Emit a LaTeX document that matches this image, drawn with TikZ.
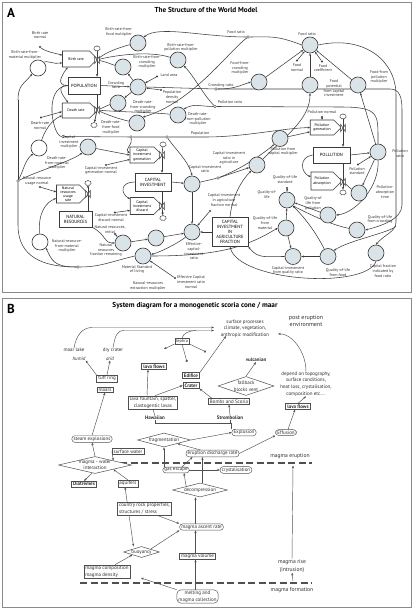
\documentclass[tikz,border=0pt]{standalone}
\usepackage{fontspec}
\setmainfont{PT Sans}
\usetikzlibrary{shapes.geometric,shapes.symbols,arrows.meta}
\pgfdeclarelayer{bg}
\pgfsetlayers{bg,main}
\definecolor{auxfill}{HTML}{D9E3E8}
\definecolor{lnA}{HTML}{3C3C3C}
\definecolor{lnB}{HTML}{505050}
\definecolor{txB}{HTML}{2E2E2E}
\definecolor{frm}{HTML}{8A8A8A}
\newcommand{\fsA}{\fontsize{4}{4.7}\selectfont}
\newcommand{\fsB}{\fontsize{5}{6.6}\selectfont}
\tikzset{
 frame/.style={draw=frm,line width=0.9pt},
 lettr/.style={font=\bfseries\fontsize{13}{13}\selectfont,inner sep=0},
 ttl/.style={font=\bfseries\fontsize{7.2}{8}\selectfont,inner sep=0},
 aux/.style={circle,draw=lnA,line width=0.65pt,fill=auxfill,minimum size=16pt,inner sep=0},
 wcirc/.style={aux,fill=white},
 la/.style={font=\fsA,align=center,text=black!80,inner sep=0},
 lvl/.style={draw=lnA,line width=0.85pt,fill=white,font=\fontsize{4.5}{5}\selectfont,align=center,inner sep=0},
 rate/.style={signal,signal to=east,draw=lnA,line width=0.6pt,fill=white,font=\fontsize{3.8}{4.2}\selectfont,align=center,inner sep=0},
 cst/.style={circle,fill=lnA,inner sep=0,minimum size=2.3pt},
 jn/.style={circle,draw=lnA,line width=0.4pt,fill=white,inner sep=0,minimum size=2.6pt},
 ea/.style={draw=lnA,line width=0.55pt,-{Stealth[length=2.4pt,width=2pt]}},
 el/.style={draw=lnA,line width=0.55pt},
 flw/.style={draw=lnA,line width=0.75pt,-{Stealth[length=2.6pt,width=2.4pt]}},
 cloudy/.style={cloud,cloud puffs=7,draw=lnA,line width=0.45pt,fill=white,minimum width=6.5pt,minimum height=5.5pt,inner sep=0},
 bt/.style={font=\fsB,text=txB,align=center,inner sep=0},
 bb/.style={draw=lnB,line width=0.45pt,fill=white,font=\fsB,text=txB,align=center,inner xsep=1.6pt,inner ysep=1pt},
 bbold/.style={bb,font=\fsB\bfseries,line width=0.6pt},
 bround/.style={bb,rounded corners=2.8pt},
 dia/.style={diamond,draw=lnB,line width=0.5pt,fill=white,inner sep=0},
 eb/.style={draw=lnB,line width=0.45pt,-{Stealth[length=2.8pt,width=2.2pt]}},
 ebb/.style={draw=lnB,line width=0.45pt,{Stealth[length=2.8pt,width=2.2pt]}-{Stealth[length=2.8pt,width=2.2pt]}},
 ec/.style={draw=lnB,line width=0.45pt,-{Circle[length=2.2pt]}},
 lb/.style={draw=lnB,line width=0.45pt},
 dsh/.style={draw=lnB,line width=1.3pt,dash pattern=on 7pt off 3.5pt},
 valve/.pic={\draw[lnA,line width=0.55pt,fill=white] (-2.4,-3.6) -- (2.4,3.6) -- (2.4,-3.6) -- (-2.4,3.6) -- cycle;}
}
\begin{document}
\begin{tikzpicture}[x=1pt,y=-1pt]
\useasboundingbox (0,0) rectangle (414,610);
\begin{pgfonlayer}{bg}
\fill[white] (0,0) rectangle (414,610);
\end{pgfonlayer}
% ================= PANEL A =================
\draw[frame] (2,2) rectangle (411,292);
\node[lettr] (labA) at (11,13) {A};
\node[ttl] (ttlA) at (206,10) {The Structure of the World Model};
% levels
\node[lvl,minimum width=32pt,minimum height=17pt] (pop) at (84,85.5) {POPULATION};
\node[lvl,minimum width=36pt,minimum height=18pt] (capinv) at (153,182) {CAPITAL\\INVESTMENT};
\node[lvl,minimum width=33pt,minimum height=16pt] (natres) at (75.5,219) {NATURAL\\RESOURCES};
\node[lvl,minimum width=37pt,minimum height=16pt] (poll) at (331.5,155) {POLLUTION};
\node[lvl,minimum width=36pt,minimum height=29pt] (ciaf) at (230,232) {CAPITAL\\INVESTMENT\\IN\\AGRICULTURE\\FRACTION};
% rates
\node[rate,minimum width=35pt,minimum height=16pt] (br) at (76,59) {Birth rate};
\node[rate,minimum width=35pt,minimum height=15pt] (dr) at (76,110.5) {Death rate};
\node[rate,minimum width=32pt,minimum height=16pt] (cig) at (142,155) {Capital\\investment\\generation};
\node[rate,minimum width=32pt,minimum height=17pt] (cid) at (142,206) {Capital\\investment\\discard};
\node[rate,minimum width=32pt,minimum height=18pt] (nru) at (68,194) {Natural\\resources\\usage\\rate};
\node[rate,minimum width=31pt,minimum height=15pt] (pg) at (322,127.5) {Pollution\\generation};
\node[rate,minimum width=31pt,minimum height=18pt] (pa) at (322,181) {Pollution\\absorption};
% valves and clouds
\coordinate (vbr) at (97,60); \pic at (vbr) {valve};
\coordinate (vdr) at (97,110); \pic at (vdr) {valve};
\coordinate (vcig) at (162,155); \pic at (vcig) {valve};
\coordinate (vcid) at (162,206); \pic at (vcid) {valve};
\coordinate (vnru) at (88,194); \pic at (vnru) {valve};
\coordinate (vpg) at (343,128); \pic at (vpg) {valve};
\coordinate (vpa) at (343,182); \pic at (vpa) {valve};
\node[cloudy] (brcl) at (97,48.5) {};
\node[cloudy] (drcl) at (94,125) {};
\node[cloudy] (cigcl) at (163,144.5) {};
\node[cloudy] (cidcl) at (163,218) {};
\node[cloudy] (nrucl) at (88,183) {};
\node[cloudy] (pgcl) at (343,116.5) {};
\node[cloudy] (pacl) at (343,192.5) {};
% auxiliaries
\node[aux] (brf) at (138,43) {};
\node[aux] (brp) at (178,60) {};
\node[aux] (brc) at (123,67) {};
\node[aux] (cr) at (138,87) {};
\node[aux] (drc) at (118,103) {};
\node[aux] (drf) at (137,123) {};
\node[aux] (drp) at (178,115) {};
\node[aux] (cim) at (88,147) {};
\node[aux] (nrf) at (123,243) {};
\node[aux] (nrx) at (156,238) {};
\node[aux] (msl) at (143,256) {};
\node[aux] (ecir) at (192,232) {};
\node[aux] (cir) at (192,184) {};
\node[aux] (cira) at (257,165) {};
\node[aux] (pcm) at (280,138.5) {};
\node[aux] (pr) at (378,152) {};
\node[aux] (pat) at (359,193) {};
\node[aux] (ql) at (287,200) {};
\node[aux] (qlp) at (328,215) {};
\node[aux] (qlm) at (286,228) {};
\node[aux] (qlc) at (357,230) {};
\node[aux] (ciq) at (293,256.5) {};
\node[aux] (qlf) at (328,256.5) {};
\node[aux] (cfr) at (376,253) {};
\node[aux] (fr) at (310,45) {};
\node[aux] (ffc) at (259,82) {};
\node[aux] (fpc) at (310,85) {};
\node[aux] (ffp) at (358,85) {};
\node[wcirc] (brm) at (38,68) {};
\node[wcirc] (drm) at (39,148) {};
\node[wcirc] (nrm) at (40,242) {};
% constants
\node[cst] (brnd) at (40,47) {};
\node[cst] (drnd) at (41,117.5) {};
\node[cst] (landd) at (157,76.5) {};
\node[cst] (densd) at (161,90) {};
\node[cst] (fnd) at (297,60.5) {};
\node[cst] (fcd) at (322,61.5) {};
\node[cst] (pnd) at (322,117) {};
\node[cst] (psd) at (358,164.5) {};
\node[cst] (cignd) at (106,165) {};
\node[cst] (cidnd) at (115,212.5) {};
\node[cst] (nrund) at (40,187) {};
\node[cst] (nrind) at (115,234) {};
\node[cst] (ciafnd) at (210,211) {};
\node[cst] (ecirnd) at (175,278) {};
\node[cst] (qlsd) at (287,188) {};
% junctions
\node[jn] (jfr) at (248,37) {};
\node[jn] (jcr) at (216,89) {};
\node[jn] (jpr) at (215,106.5) {};
\node[jn] (jp1) at (63,136.5) {};
\node[jn] (jp2) at (131,137) {};
\node[jn] (jp3) at (167,137) {};
\node[jn] (jcir) at (218,178) {};
\node[jn] (jmsl) at (78,267) {};
\node[jn] (jl) at (18,181) {};
% labels
\node[la] (t_brn) at (40,35) {Birth rate\\normal};
\node[la] (t_brm) at (25,55) {Birth-rate-from-\\material multiplier};
\node[la] (t_brf) at (119,32) {Birth-rate-from-\\food multiplier};
\node[la] (t_brp) at (181,47.5) {Birth-rate-from-\\pollution multiplier};
\node[la] (t_brc) at (147,62) {Birth-rate-from-\\crowding\\multiplier};
\node[la] (t_cr) at (116,85) {Crowding\\ratio};
\node[la] (t_land) at (169,75.5) {Land area};
\node[la] (t_dens) at (172,97) {Population\\density\\normal};
\node[la] (t_drc) at (143,107) {Death-rate-\\from-crowding\\multiplier};
\node[la] (t_drf) at (111,127.5) {Death-rate-\\from-food\\multiplier};
\node[la] (t_drp) at (198,119) {Death-rate-\\from-pollution\\multiplier};
\node[la] (t_drn) at (40,125.5) {Death-rate\\normal};
\node[la] (t_drm) at (57,163) {Death-rate-\\from-material\\multiplier};
\node[la] (t_cim) at (69,142) {Capital\\investment\\multiplier};
\node[la] (t_cign) at (101,170.5) {Capital-investment\\generation normal};
\node[la] (t_cidn) at (111,217.5) {Capital-investment\\discard normal};
\node[la] (t_nrun) at (37,181) {Natural resource\\usage normal};
\node[la] (t_nrin) at (110,229.5) {Natural resources,\\initial};
\node[la] (t_nrm) at (67,246) {Natural-resource-\\from-material\\multiplier};
\node[la] (t_nrf) at (106,250) {Natural\\resources\\fraction remaining};
\node[la] (t_msl) at (137,269.5) {Material Standard\\of living};
\node[la] (t_ecir) at (194,251.5) {Effective-\\capital-\\investment\\ratio};
\node[la] (t_ecirn) at (191,282) {Effective Capital\\investment ratio\\normal};
\node[la] (t_nrx) at (148,286) {Natural-resources\\extraction multiplier};
\node[la] (t_cir) at (205,169) {Capital-investment\\ratio};
\node[la] (t_cira) at (229,158) {Capital-investment\\ratio in\\agriculture};
\node[la] (t_ciafn) at (224,200) {Capital-investment\\in agriculture\\fraction normal};
\node[la] (t_pcm) at (283,151.5) {Pollution from\\capital multiplier};
\node[la] (t_pr) at (400,153.5) {Pollution\\ratio};
\node[la] (t_ps) at (357,171) {Pollution\\standard};
\node[la] (t_pat) at (385,192) {Pollution-\\absorption\\time};
\node[la] (t_qls) at (285,179.5) {Quality-of-life\\standard};
\node[la] (t_ql) at (267,194.5) {Quality-of-\\life};
\node[la] (t_qlp) at (313,203.5) {Quality-of\\life from\\pollution};
\node[la] (t_qlm) at (265,223) {Quality-of-life\\from\\material};
\node[la] (t_qlc) at (380,219.5) {Quality-of-life\\from crowding};
\node[la] (t_ciq) at (288,270.5) {Capital-investment\\from quality ratio};
\node[la] (t_qlf) at (338,272.5) {Quality-of-life\\from food};
\node[la] (t_cfr) at (383,271) {Capital fraction\\indicated by\\food ratio};
\node[la] (t_fr) at (307,34) {Food ratio};
\node[la] (t_fn) at (297,67.5) {Food\\normal};
\node[la] (t_fc) at (323,68) {Food\\coefficient};
\node[la] (t_ffc) at (240,68) {Food-from-\\crowding\\multiplier};
\node[la] (t_fpc) at (334,88.5) {Food\\potential\\from capital\\investment};
\node[la] (t_ffp) at (379,77) {Food-from\\pollution\\multiplier};
\node[la] (t_pn) at (322,112.5) {Pollution normal};
\node[la] (t_frl) at (236,32) {Food ratio};
\node[la] (t_crl) at (221,85) {Crowding ratio};
\node[la] (t_prl) at (230,102) {Pollution ratio};
\node[la] (t_popl) at (200,133.5) {Population};
\begin{pgfonlayer}{bg}
% population sector
\draw[flw] (vbr) -- (vbr |- pop.north);
\draw[flw] (vbr |- pop.south) -- (vdr);
\draw[el,line width=0.6pt] (brcl) -- (vbr);
\draw[flw] (vdr) -- (drcl);
\draw[ea] (brnd) .. controls +(6,5) and +(-6,-2) .. (br.165);
\draw[ea] (brm) .. controls +(8,-8) and +(-8,2) .. (br.195);
\draw[ea] (brf) .. controls +(-14,3) and +(8,-8) .. (vbr);
\draw[ea] (brp) .. controls +(-30,-10) and +(14,-4) .. (vbr);
\draw[ea] (brc) .. controls +(-10,-2) and +(10,2) .. (vbr);
\draw[ea] (cr) -- (brc);
\draw[ea] (cr) -- (drc);
\draw[ea] (pop.east) -- (cr);
\draw[ea] (landd) -- (cr);
\draw[ea] (densd) -- (cr);
\draw[ea] (drc) .. controls +(-10,2) and +(8,-3) .. (vdr);
\draw[ea] (drf) .. controls +(-18,-4) and +(8,4) .. (vdr);
\draw[ea] (drp) .. controls +(-30,-3) and +(20,2) .. (vdr);
\draw[ea] (drnd) -- (dr.185);
\draw[ea] (drm) .. controls +(6,-18) and +(-10,4) .. (dr.200);
\draw[ea] (pop.west) .. controls +(-12,0) and +(-6,8) .. (br.225);
\draw[ea] (pop.west) .. controls +(-12,0) and +(-6,-8) .. (dr.135);
% crowding ratio line
\draw[el] (cr.east) -- (jcr);
\draw[ea] (jcr) .. controls +(18,0) and +(-12,4) .. (ffc.west);
\draw[ea] (jcr) -- (390,89) .. controls +(10,0) and +(0,-12) .. (402,110) -- (402,205) .. controls +(0,14) and +(16,-4) .. (qlc.east);
% pollution ratio line
\draw[el] (pr.north) .. controls +(0,-30) and +(40,0) .. (340,107) -- (jpr);
\draw[ea] (jpr) .. controls +(-15,0) and +(10,-6) .. (drp.north east);
\draw[ea] (jpr) .. controls +(-12,-12) and +(10,10) .. (brp.south east);
\draw[ea] (pr) -- (ffp);
\draw[ea] (pr.south) .. controls +(2,25) and +(20,-2) .. (qlp.east);
% food ratio
\draw[el] (fr.west) .. controls +(-25,-10) and +(20,0) .. (jfr);
\draw[ea] (jfr) .. controls +(-45,0) and +(15,-12) .. (brf.north east);
\draw[ea] (jfr) .. controls +(-20,15) and +(50,-15) .. (drf.north east);
\draw[el] (fr.east) .. controls +(45,-10) and +(0,-35) .. (396,95) -- (396,222);
\draw[ea] (396,222) .. controls +(0,10) and +(8,-10) .. (cfr.north);
\draw[ea] (396,226) .. controls +(-4,6) and +(14,-10) .. (qlf.north east);
\draw[ea] (ffc) -- (fr);
\draw[ea] (fpc) -- (fr);
\draw[ea] (ffp) -- (fr);
\draw[ea] (fnd) -- (fr);
\draw[ea] (fcd) -- (fr);
\draw[ea] (cira.north east) .. controls +(25,-25) and +(0,25) .. (fpc.south);
% population line
\draw[el] (pop.west) .. controls +(-25,2) and +(-10,0) .. (jp1);
\draw[el] (jp1) -- (jp2) -- (jp3) -- (205,137);
\draw[ea] (205,137) .. controls +(40,0) and +(-30,1) .. (pg.west);
\draw[ea] (jp2) .. controls +(2,8) and +(-6,-3) .. (cig.170);
\draw[ea] (jp3) .. controls +(8,12) and +(-3,-14) .. (cir.north);
% capital sector
\draw[ea] (cim) -- (cig.west);
\draw[ea] (cignd) -- (cig.200);
\draw[el,line width=0.6pt] (cigcl) -- (vcig);
\draw[flw] (vcig) -- (vcig |- capinv.north);
\draw[flw] (vcid |- capinv.south) -- (vcid);
\draw[flw] (vcid) -- (cidcl);
\draw[ea] (cidnd) -- (cid.200);
\draw[ea] (capinv.west) .. controls +(-14,0) and +(-10,-6) .. (cid.150);
\draw[ea] (capinv.east) -- (cir);
\draw[el] (cir) -- (jcir);
\draw[ea] (jcir) -- (cira);
\draw[ea] (jcir) .. controls +(25,-10) and +(-12,10) .. (pcm.south west);
% natural resources
\draw[flw] (vnru |- natres.north) -- (vnru);
\draw[flw] (vnru) -- (nrucl);
\draw[ea] (nrm) .. controls +(-2,-30) and +(-10,4) .. (nru.200);
\draw[ea] (nrund) -- (nru.170);
\draw[ea] (natres.south east) .. controls +(15,8) and +(-12,0) .. (nrf.west);
\draw[ea] (nrind) -- (nrf);
\draw[ea] (nrf) -- (nrx);
\draw[ea] (nrx) -- (ecir);
\draw[ea] (ciaf.west) -- (ecir);
\draw[ea] (cir) -- (ecir);
\draw[ea] (ciafnd) -- (ecir);
\draw[ea] (ecir) .. controls +(-15,12) and +(15,-3) .. (msl);
\draw[ea] (ecirnd) -- (msl);
% material standard of living
\draw[el] (msl.west) .. controls +(-25,6) and +(22,0) .. (jmsl);
\draw[ea] (jmsl) .. controls +(-25,0) and +(6,12) .. (nrm.south east);
\draw[el] (jmsl) .. controls +(-45,0) and +(0,25) .. (18,225) -- (jl);
\draw[el] (jl) -- (18,100);
\draw[ea] (18,100) .. controls +(0,-15) and +(-8,10) .. (brm.south west);
\draw[ea] (jl) .. controls +(6,-12) and +(-8,6) .. (drm.south west);
\draw[ea] (jl) .. controls +(14,-8) and +(-10,8) .. (cim.south west);
\draw[ea] (msl.east) .. controls +(70,0) and +(-30,18) .. (qlm.west);
% pollution sector
\draw[ea] (pcm) -- (pg.200);
\draw[ea] (pnd) -- (pg.north);
\draw[el,line width=0.6pt] (pgcl) -- (vpg);
\draw[flw] (vpg) -- (vpg |- poll.north);
\draw[flw] (vpa |- poll.south) -- (vpa);
\draw[flw] (vpa) -- (pacl);
\draw[ea] (poll.east) -- (pr);
\draw[ea] (psd) -- (pr);
\draw[ea] (pr) -- (pat);
\draw[ea] (pat) .. controls +(-8,-4) and +(4,3) .. (vpa);
\draw[ea] (poll.west) .. controls +(-14,2) and +(-10,-4) .. (pa.160);
% quality of life
\draw[ea] (qlsd) -- (ql);
\draw[ea] (qlp) -- (ql);
\draw[ea] (qlm) -- (ql);
\draw[ea] (qlc) .. controls +(-25,-5) and +(20,10) .. (ql.south east);
\draw[ea] (qlf) .. controls +(-10,-20) and +(15,15) .. (ql.south east);
\draw[ea] (qlm) -- (ciq);
\draw[ea] (qlf) -- (ciq);
\draw[ea] (ciq.west) .. controls +(-20,0) and +(10,12) .. (ciaf.south east);
\draw[ea] (cfr.south) .. controls +(-10,28) and +(10,35) .. (ciaf.south);
\draw[ea] (ciaf.north) .. controls +(2,-20) and +(-10,10) .. (cira.south west);
\end{pgfonlayer}
% ================= PANEL B =================
\draw[frame] (2,298) rectangle (411,607);
\node[lettr] (labB) at (11,309) {B};
\node[ttl] (ttlB) at (195,306) {System diagram for a monogenetic scoria cone / maar};
\node[bt] (maarlake) at (74,350) {maar lake};
\node[bt,font=\fsB\itshape] (humid) at (79,358.5) {humid};
\node[bt] (drycr) at (113,350) {dry crater};
\node[bt,font=\fsB\itshape] (arid) at (110,358.5) {arid};
\node[bb,font=\fontsize{4.3}{5}\selectfont,inner ysep=0.8pt,inner xsep=1.2pt] (tephra) at (182,341) {tephra};
\node[bt] (surf) at (245,328.5) {surface processes\\climate, vegetation,\\anthropic modification};
\node[bt,font=\fontsize{6}{7.6}\selectfont] (post) at (306,321) {post eruption\\environment};
\node[bbold] (lavaf1) at (154,366.5) {lava flows};
\node[bbold] (edif) at (191,375.5) {Edifice};
\node[bbold] (crater) at (191,385.5) {Crater};
\node[bb] (tuff) at (107,378.5) {tuff ring};
\node[bb] (maars) at (105,390) {maars};
\node[bb] (lavafnt) at (153,402.5) {lava fountain, spatter,\\clastogentic lavas};
\node[bt,font=\fsB\bfseries] (haw) at (155,418) {Hawaiian};
\node[bb] (bombs) at (229,401.5) {Bombs and Scoria};
\node[bt,font=\fsB\bfseries] (strom) at (230,417.5) {Strombolian};
\node[dia,minimum width=56pt,minimum height=19pt] (fallb) at (246,386) {};
\node[bt] (fallbt) at (246,386) {fallback\\blocks vent};
\node[bt,font=\fsB\bfseries] (vulc) at (256,360) {vulcanian};
\node[bt] (depend) at (306,384) {depend on topography,\\surface conditions,\\heat loss, crystalisation,\\composition etc....};
\node[bbold] (lavaf2) at (298,406.5) {lava flows};
\node[bround] (effus) at (286,432.5) {Effusion};
\node[bround] (explo) at (244,432.5) {Explosion};
\node[bround] (steam) at (92,439) {steam explosions};
\node[dia,minimum width=53pt,minimum height=14pt] (frag) at (164,440) {};
\node[bt] (fragt) at (164,440) {fragmentation};
\node[bb] (surfw) at (128,451.5) {surface water};
\node[bround] (erdis) at (212.5,453.5) {eruption discharge rate};
\draw[dsh] (120,463) -- (312,463);
\node[bt,font=\fontsize{5.6}{6.6}\selectfont] (meru) at (290,456) {magma eruption};
\node[dia,minimum width=73pt,minimum height=17pt] (mwi) at (95,465) {};
\node[bt] (mwit) at (95,465) {magma - water\\interaction};
\node[bround] (gas) at (176,470) {gas escape};
\node[bround] (cryst) at (236,470) {crystalisation};
\node[bbold] (diat) at (84,484) {Diatremes};
\node[bb] (aqui) at (128,483.5) {aquifers};
\node[dia,minimum width=55pt,minimum height=14pt] (decomp) at (200,490) {};
\node[bt] (decompt) at (200,490) {decompression};
\node[bb,align=left] (country) at (144.5,508.5) {country rock properties,\\structures / stress};
\node[bround] (ascent) at (201.5,527) {magma ascent rate};
\node[dia,minimum width=36pt,minimum height=11pt] (buoy) at (141.5,552) {};
\node[bt] (buoyt) at (141.5,552) {buoyancy};
\node[bb] (volume) at (197.5,556) {magma volume};
\node[bb,align=left] (comp) at (107,571.5) {magma composition\\magma density};
\draw[dsh] (80,583) -- (312,583);
\node[bt,font=\fontsize{5.6}{6.6}\selectfont] (mform) at (292,590) {magma formation};
\node[bt,font=\fontsize{5.6}{7.6}\selectfont] (mrise) at (292,566) {magma rise\\(intrusion)};
\node[bround,rounded corners=4pt] (melt) at (197.5,596.5) {melting and\\magma collection};
\coordinate (sp1) at (214,327.5);
\coordinate (sp2) at (214,330.5);
\coordinate (spE) at (226,336);
\coordinate (spR) at (278,334);
\coordinate (t1) at (164,349);
\coordinate (t2) at (187,362);
\coordinate (t3) at (206,352);
\coordinate (brk) at (231,423);
\coordinate (cmpA) at (141,578);
\coordinate (mer) at (293,465.5);
\coordinate (mfo) at (293,581);
\begin{pgfonlayer}{bg}
\draw[eb] (maarlake.north) .. controls +(2,-12) and +(-10,0) .. (92,327.5) -- (sp1);
\draw[eb] (drycr.north) .. controls +(2,-10) and +(-8,0) .. (124,330.5) -- (sp2);
\draw[lb] (tephra.north) .. controls +(1,-5) and +(-6,0) .. (196,330.5);
\draw[eb] (tephra.south west) -- (t1);
\draw[ec] (tephra.south) -- (t2);
\draw[ec] (tephra.south east) -- (t3);
\draw[eb] (edif.north east) -- (spE);
\draw[eb] (tuff.north west) -- (humid.south east);
\draw[eb] (tuff.north) -- (arid.south);
\draw[eb] (steam.north) -- (maars.south);
\draw[eb] ([xshift=-6pt]lavafnt.north) -- ([xshift=-6pt]lavaf1.south);
\draw[eb] ([xshift=2pt]lavafnt.north) -- (crater.west);
\draw[lb] (haw.north) -- (lavafnt.south);
\draw[eb] ([xshift=4pt]bombs.north west) -- (crater.south east);
\draw[eb] (strom.north) -- (bombs.south);
\draw[eb] (fallb.north) -- (vulc.south);
\draw[eb] (depend.north) .. controls +(0,-22) and +(12,-1) .. (spR);
\draw[eb] (lavaf2.north) -- (depend.south);
\draw[eb] ([xshift=2pt]effus.north) -- ([xshift=-3pt]lavaf2.south);
\draw[lb] (haw.south) -- (haw.south |- brk) -- (brk) -- (brk |- explo.north);
\draw[lb] (strom.south) -- (strom.south |- brk);
\draw[eb] (frag.east) -- (explo.west);
\draw[eb] (erdis.east) -- (effus.south west);
\draw[eb] ([xshift=-12pt]erdis.north) -- (frag.south east);
\draw[eb] (mwi.north) -- (steam.south);
\draw[eb] (surfw.west) -- (mwi.north east);
\draw[eb] (mwi.-110) -- (diat.north);
\draw[eb] (aqui.north) -- (mwi.south east);
\draw[eb] (gas.east) -- (cryst.west);
\draw[eb] (gas.north -| frag.south) -- (frag.south);
\draw[eb] ([xshift=6pt]gas.north) -- ([xshift=-20pt]erdis.south);
\draw[eb] (decomp.north west) -- ([xshift=8pt]gas.south);
\draw[eb] (decomp.70) -- (decomp.70 |- erdis.south);
\draw[eb] ([xshift=-15pt]country.south east) -- (ascent.north west);
\draw[eb] ([xshift=-6pt]ascent.north) -- ([xshift=-6pt]ascent.north |- decomp.south);
\draw[eb] (buoy.north east) -- (ascent.south west);
\draw[ebb] ([xshift=-3pt]aqui.south) -- ([xshift=-8pt]buoy.north);
\draw[eb] ([xshift=-2pt]volume.north) -- ([xshift=-2pt]volume.north |- ascent.south);
\draw[eb] ([xshift=8pt]comp.north) -- (buoy.south west);
\draw[eb] ([xshift=-2pt]melt.north) -- ([xshift=-2pt]melt.north |- volume.south);
\draw[eb] (melt.north west) -- (cmpA);
\draw[eb] (mrise.north) -- (mer);
\draw[eb] (mfo) -- (mrise.south);
\end{pgfonlayer}
\end{tikzpicture}
\end{document}
